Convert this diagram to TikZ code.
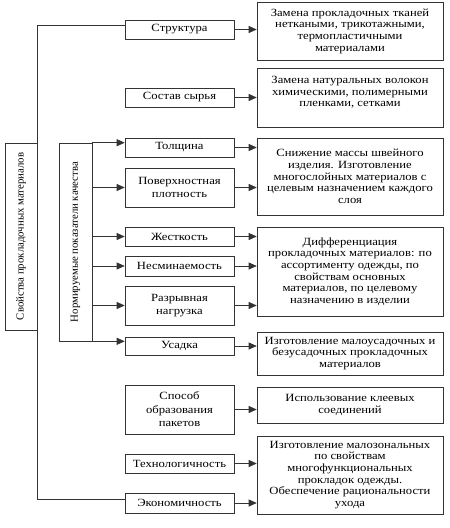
\documentclass[tikz,border=0pt]{standalone}
\usepackage{fontspec}
\setmainfont{Liberation Serif}
\newfontfamily\widefont{Liberation Serif}[FakeStretch=1.15]
\usepackage{graphicx}
\usetikzlibrary{shadows}
\usetikzlibrary{arrows.meta}

\tikzset{
  mid/.style={draw=black!80,line width=0.6pt,fill=white,minimum width=109pt,inner sep=1pt,align=center,font=\widefont\fontsize{11}{13.5}\selectfont,drop shadow={shadow xshift=0.8pt,shadow yshift=-0.8pt,fill=black!35}},
  res/.style={draw=black!80,line width=0.6pt,fill=white,minimum width=186pt,inner sep=1pt,align=center,font=\widefont\fontsize{11}{11.7}\selectfont,drop shadow={shadow xshift=0.8pt,shadow yshift=-0.8pt,fill=black!35}},
  side/.style={draw=black!80,line width=0.6pt,fill=white,inner sep=0pt,font=\fontsize{10.8}{13}\selectfont,drop shadow={shadow xshift=0.8pt,shadow yshift=-0.8pt,fill=black!35}},
  arr/.style={draw=black!80,line width=0.6pt,-{Triangle[length=8pt,width=7pt]}},
  link/.style={draw=black!80,line width=0.6pt}
}

\begin{document}
\begin{tikzpicture}[x=1pt,y=-1pt]
  \useasboundingbox (0,0) rectangle (450,528);
  % left column
  \node[side,minimum width=32pt,minimum height=187pt] (prop) at (21,236.5) {\rotatebox{90}{Свойства прокладочных материалов}};
  \node[side,minimum width=33pt,minimum height=198pt] (norm) at (75.5,242) {\rotatebox{90}{Нормируемые показатели качества}};
  % properties
  \node[mid,minimum height=19pt] (struct) at (179.5,29.5) {Структура};
  \node[mid,minimum height=19pt] (sostav) at (179.5,97.5) {Состав сырья};
  \node[mid,minimum height=19pt] (tol) at (179.5,147.5) {Толщина};
  \node[mid,minimum height=39pt] (pov) at (179.5,187.5) {Поверхностная\\плотность};
  \node[mid,minimum height=19pt] (zhest) at (179.5,236.5) {Жесткость};
  \node[mid,minimum height=20pt] (nesm) at (179.5,266) {Несминаемость};
  \node[mid,minimum height=39pt] (razr) at (179.5,305.5) {Разрывная\\нагрузка};
  \node[mid,minimum height=18pt] (usad) at (179.5,346) {Усадка};
  \node[mid,minimum height=49pt] (sposob) at (179.5,409.5) {Способ\\образования\\пакетов};
  \node[mid,minimum height=19pt] (tech) at (179.5,463.5) {Технологичность};
  \node[mid,minimum height=20pt] (econ) at (179.5,503) {Экономичность};
  % results
  \node[res,minimum height=58pt] (r1) at (350,31) {Замена прокладочных тканей\\неткаными, трикотажными,\\термопластичными\\материалами};
  \node[res,minimum height=59pt] (r2) at (350,97.5) {Замена натуральных волокон\\химическими, полимерными\\пленками, сетками\\~};
  \node[res,minimum height=77pt] (r3) at (350,176.5) {Снижение массы швейного\\изделия. Изготовление\\многослойных материалов с\\целевым назначением каждого\\слоя};
  \node[res,minimum height=89pt] (r4) at (350,271.5) {Дифференциация\\прокладочных материалов: по\\ассортименту одежды, по\\свойствам основных\\материалов, по целевому\\назначению в изделии};
  \node[res,minimum height=43pt] (r5) at (350,353.5) {Изготовление малоусадочных и\\безусадочных прокладочных\\материалов};
  \node[res,minimum height=36pt] (r6) at (350,405) {Использование клеевых\\соединений};
  \node[res,minimum height=78pt] (r7) at (350,475) {Изготовление малозональных\\по свойствам\\многофункциональных\\прокладок одежды.\\Обеспечение рациональности\\ухода};
  % left links
  \draw[link] (prop.north east) |- ([yshift=4.5pt]struct.west);
  \draw[link] (prop.south east) |- ([yshift=4pt]econ.west);
  \draw[arr] (norm.north east) -- (norm.north east -| tol.west);
  \draw[arr] (norm.east |- pov.west) -- (pov.west);
  \draw[arr] (norm.east |- zhest.west) -- (zhest.west);
  \draw[arr] (norm.east |- nesm.west) -- (nesm.west);
  \draw[arr] (norm.east |- razr.west) -- (razr.west);
  \draw[arr] (norm.south east) -- (norm.south east -| usad.west);
  % right links
  \draw[arr] (struct.east) -- (struct.east -| r1.west);
  \draw[arr] (sostav.east) -- (sostav.east -| r2.west);
  \draw[arr] (tol.east) -- (tol.east -| r3.west);
  \draw[arr] (pov.east) -- (pov.east -| r3.west);
  \draw[arr] (zhest.east) -- (zhest.east -| r4.west);
  \draw[arr] (nesm.east) -- (nesm.east -| r4.west);
  \draw[arr] (razr.east) -- (razr.east -| r4.west);
  \draw[arr] (usad.east) -- (usad.east -| r5.west);
  \draw[arr] (sposob.east) -- (sposob.east -| r6.west);
  \draw[arr] (tech.east) -- (tech.east -| r7.west);
  \draw[arr] (econ.east) -- (econ.east -| r7.west);
\end{tikzpicture}
\end{document}
